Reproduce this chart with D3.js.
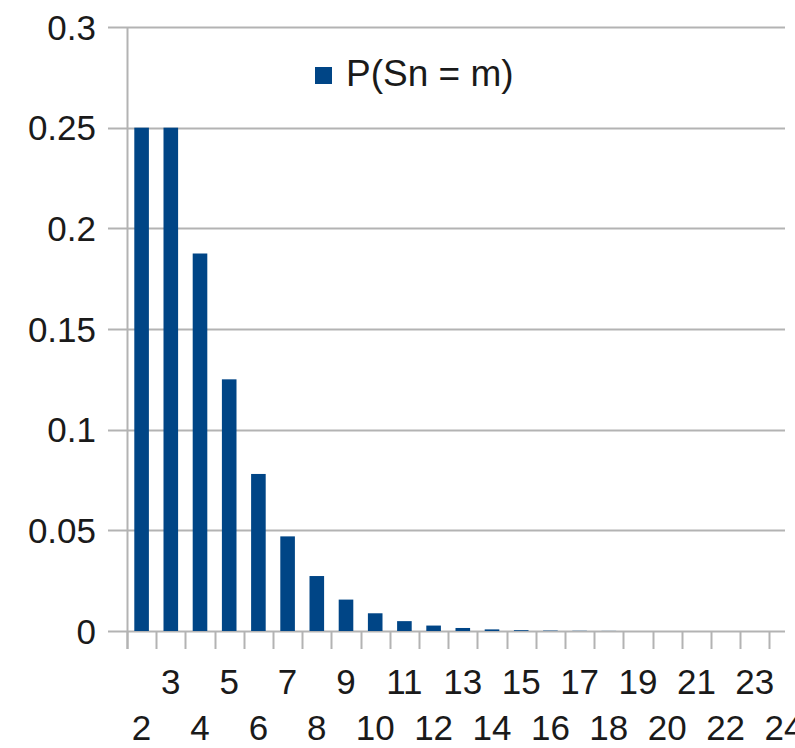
<!DOCTYPE html>
<html lang="en">
<head>
    <meta charset="UTF-8">
    <title>P(Sn = m)</title>
    <script src="https://d3js.org/d3.v7.min.js"></script>
    <style>
        body {
            margin: 0;
            background-color: #ffffff;
            font-family: "Liberation Sans", Arial, sans-serif;
        }
        svg { display: block; }
    </style>
</head>
<body>
    <svg id="chart"></svg>

    <script>
        // chart data
        const categories = ["2", "3", "4", "5", "6", "7", "8", "9", "10", "11", "12", "13",
                            "14", "15", "16", "17", "18", "19", "20", "21", "22", "23", "24"];
        const probs = [0.25, 0.25, 0.1875, 0.125, 0.078, 0.047, 0.0273, 0.0156, 0.0088, 0.0049,
                       0.0027, 0.0015, 0.0008, 0.0004, 0.0002, 0.0001, 0.00005, 0, 0, 0, 0, 0, 0];
        const yTicks = [0, 0.05, 0.1, 0.15, 0.2, 0.25, 0.3];
        const seriesName = "P(Sn = m)";

        const W = 795, H = 748;
        const margin = { top: 27, left: 127, bottom: 117 };
        const plotH = H - margin.top - margin.bottom;
        const gridRight = 785;

        const svg = d3.select("#chart")
            .attr("width", W)
            .attr("height", H);

        const x = d3.scaleBand()
            .domain(categories)
            .range([margin.left, margin.left + 23 * 29.2])
            .paddingInner(0.5)
            .paddingOuter(0.25);

        const y = d3.scaleLinear()
            .domain([0, 0.3])
            .range([margin.top + plotH, margin.top]);

        // grid lines
        svg.append("g")
            .selectAll("line")
            .data(yTicks)
            .enter().append("line")
            .attr("x1", margin.left - 19)
            .attr("x2", gridRight)
            .attr("y1", d => Math.round(y(d)) + 0.5)
            .attr("y2", d => Math.round(y(d)) + 0.5)
            .attr("stroke", "#b3b3b3")
            .attr("stroke-width", 2);

        // y axis line
        svg.append("line")
            .attr("x1", margin.left + 0.5)
            .attr("x2", margin.left + 0.5)
            .attr("y1", y(0.3))
            .attr("y2", y(0) + 18)
            .attr("stroke", "#b3b3b3")
            .attr("stroke-width", 2);

        // x ticks at category boundaries
        const step = x.step();
        const bounds = d3.range(categories.length).map(i => margin.left + i * step);
        svg.append("g")
            .selectAll("line")
            .data(bounds)
            .enter().append("line")
            .attr("x1", d => Math.round(d) + 0.5)
            .attr("x2", d => Math.round(d) + 0.5)
            .attr("y1", y(0))
            .attr("y2", y(0) + 18)
            .attr("stroke", "#b3b3b3")
            .attr("stroke-width", 2);

        // y labels
        svg.append("g")
            .selectAll("text")
            .data(yTicks)
            .enter().append("text")
            .attr("x", 96)
            .attr("y", d => y(d))
            .attr("dy", "0.36em")
            .attr("text-anchor", "end")
            .attr("font-size", 35)
            .attr("fill", "#1a1a1a")
            .text(d => d3.format("~g")(d));

        // x labels, alternating rows
        svg.append("g")
            .selectAll("text")
            .data(categories)
            .enter().append("text")
            .attr("x", d => x(d) + x.bandwidth() / 2)
            .attr("y", (d, i) => i % 2 === 0 ? 740 : 694)
            .attr("text-anchor", "middle")
            .attr("font-size", 35)
            .attr("fill", "#1a1a1a")
            .text(d => d);

        // bars
        svg.append("g")
            .selectAll("rect")
            .data(probs)
            .enter().append("rect")
            .attr("x", (d, i) => x(categories[i]))
            .attr("y", d => y(d))
            .attr("width", x.bandwidth())
            .attr("height", d => y(0) - y(d))
            .attr("fill", "#004586");

        // legend
        const legend = svg.append("g").attr("transform", "translate(315,67)");
        legend.append("rect")
            .attr("width", 17)
            .attr("height", 17)
            .attr("fill", "#004586");
        legend.append("text")
            .attr("x", 31)
            .attr("y", 19)
            .attr("font-size", 37)
            .attr("fill", "#1a1a1a")
            .text(seriesName);
    </script>
</body>
</html>
